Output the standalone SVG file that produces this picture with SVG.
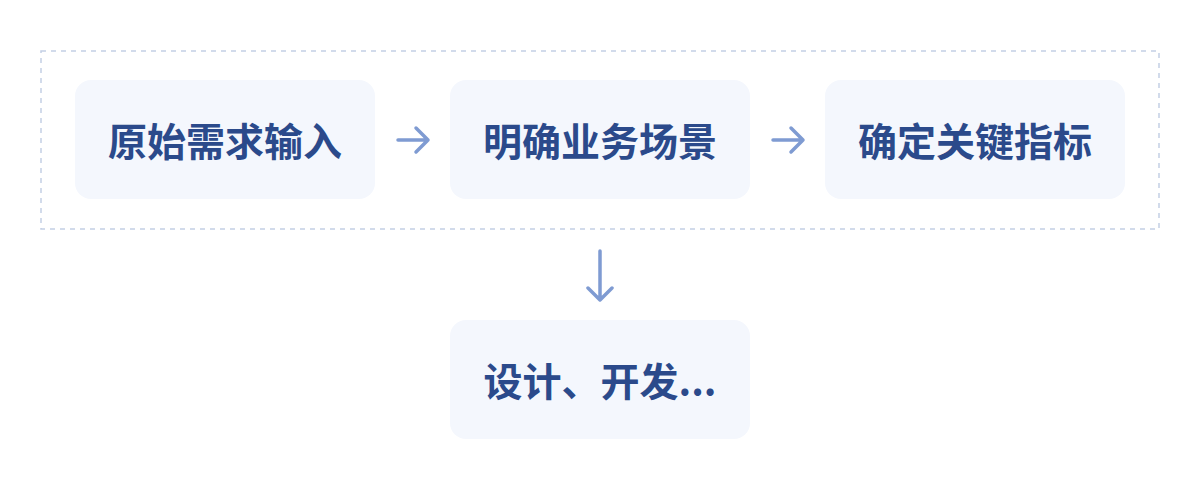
<svg xmlns="http://www.w3.org/2000/svg" width="1200" height="490" viewBox="0 0 1200 490">
<defs>
<style>
.node{fill:#f4f7fd;}
.lbl{font-family:"Noto Sans CJK SC","Noto Sans",sans-serif;font-size:39px;font-weight:700;fill:#2b4a8b;text-anchor:middle;dominant-baseline:central;}
.arr{stroke:#7f9bd2;stroke-width:3.5;fill:none;stroke-linecap:round;stroke-linejoin:round;}
.frame{fill:none;stroke:#c3cfe5;stroke-width:1.5;stroke-dasharray:5 5;}
</style>
</defs>
<rect width="1200" height="490" fill="#ffffff"/>
<rect class="frame" x="41" y="51" width="1118" height="178"/>
<g id="n1"><rect class="node" x="75" y="80" width="300" height="119" rx="16"/><text class="lbl" x="225" y="139">原始需求输入</text></g>
<g id="n2"><rect class="node" x="450" y="80" width="300" height="119" rx="16"/><text class="lbl" x="600" y="139">明确业务场景</text></g>
<g id="n3"><rect class="node" x="825" y="80" width="300" height="119" rx="16"/><text class="lbl" x="975" y="139">确定关键指标</text></g>
<g id="n4"><rect class="node" x="450" y="320" width="300" height="119" rx="16"/><text class="lbl" x="600" y="379">设计、开发...</text></g>
<g id="connectors">
<path class="arr" d="M398 140 H428 M416 128 L428 140 L416 152"/>
<path class="arr" d="M773 140 H803 M791 128 L803 140 L791 152"/>
<path class="arr" d="M600 251 V300 M588 288 L600 300 L612 288"/>
</g>
</svg>
